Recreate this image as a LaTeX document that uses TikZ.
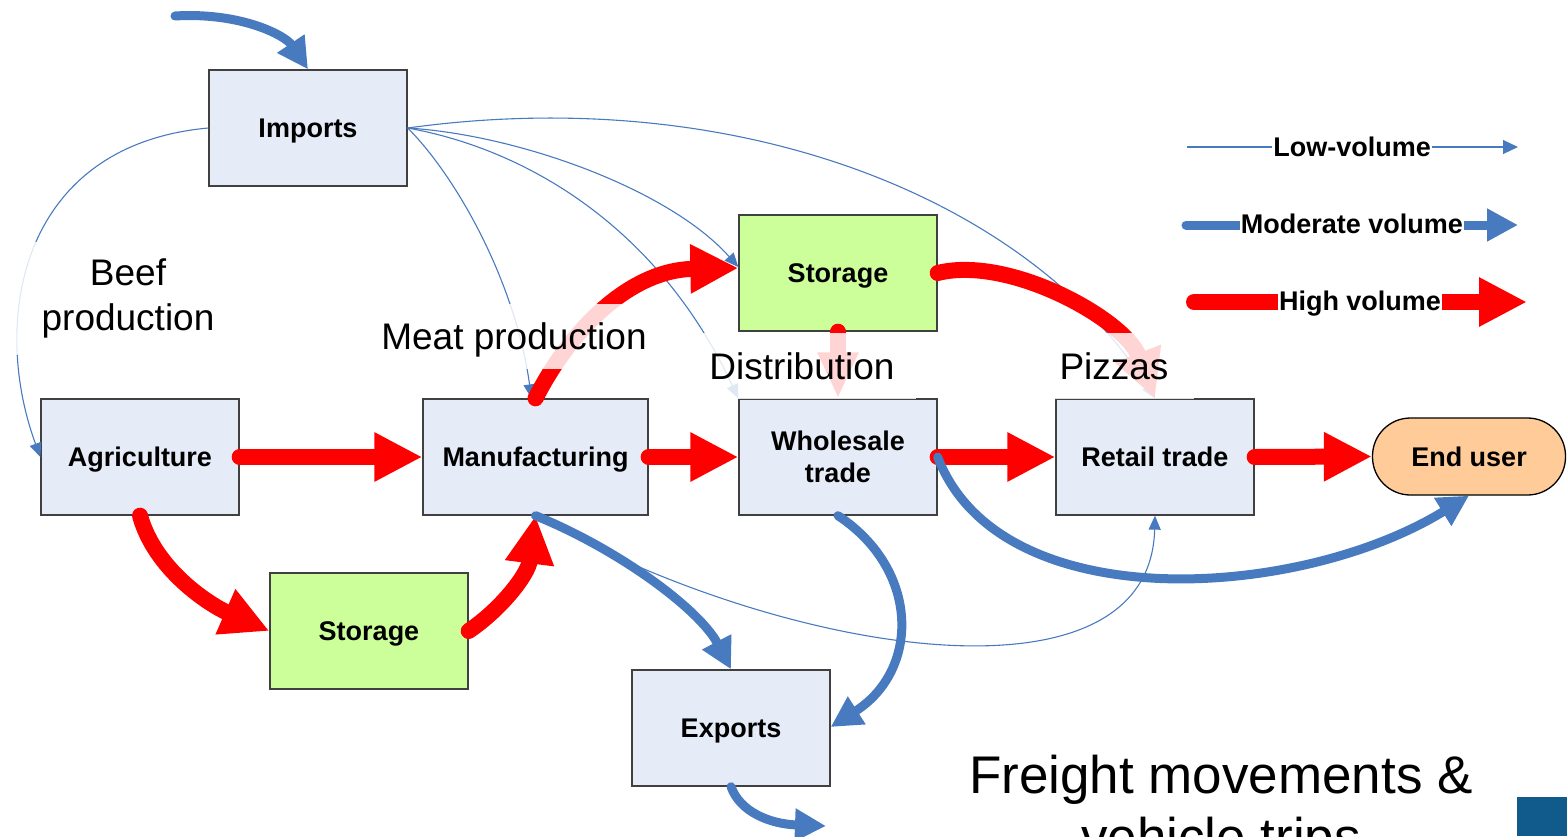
\documentclass[tikz,border=0pt]{standalone}
\usepackage{fontspec}
\setmainfont{Liberation Sans}
\usetikzlibrary{arrows.meta}
\definecolor{boxfill}{RGB}{230,236,247}
\definecolor{storefill}{RGB}{204,255,153}
\definecolor{userfill}{RGB}{255,204,153}
\definecolor{flowblue}{RGB}{72,122,192}
\definecolor{boxline}{RGB}{64,64,64}
\definecolor{cornerblue}{RGB}{16,90,140}

\begin{document}
\begin{tikzpicture}[x=1pt,y=-1pt,
  boxbase/.style={draw=boxline, line width=1.3pt, fill=boxfill, minimum width=198pt,
    minimum height=116pt, inner sep=0pt, align=center,
    font=\bfseries\fontsize{27}{32}\selectfont},
  box/.style={boxbase, text height=19pt, text depth=0pt},
  store/.style={box, fill=storefill},
  user/.style={box, fill=userfill, draw=black, minimum width=193pt,
    minimum height=77pt, rounded corners=38pt},
  lblbase/.style={fill=white, fill opacity=0.83, text opacity=1, inner sep=0pt,
    align=center, font=\fontsize{37}{45}\selectfont},
  lbl/.style={lblbase, text height=27pt, text depth=0pt},
  low/.style={draw=flowblue, line width=1.1pt, -{Triangle[length=14pt,width=12pt]}},
  mod/.style={draw=flowblue, line width=9pt, line cap=round,
    -{Triangle[length=31pt,width=31pt]}},
  high/.style={draw=red, line width=16pt, line cap=round,
    -{Triangle[length=48pt,width=46pt]}},
  legtext/.style={fill=white, inner sep=1pt, text height=19pt, text depth=0pt,
    font=\bfseries\fontsize{27}{32}\selectfont},
]
\path[use as bounding box] (0,0) rectangle (1567,836);
\clip (0,0) rectangle (1567,836);

% boxes
\node[box] (imp) at (308,128) {Imports};
\node[box] (agr) at (140,457) {Agriculture};
\node[box, minimum width=225pt] (man) at (535.5,457) {Manufacturing};
\node[store] (st1) at (838,273) {Storage};
\node[boxbase] (whl) at (838,457) {Wholesale\\trade};
\node[box] (ret) at (1155,457) {Retail trade};
\node[user] (usr) at (1469,456.5) {End user};
\node[store] (st2) at (369,631) {Storage};
\node[box] (exp) at (731,728) {Exports};

% low-volume flows
\draw[low] (imp.west) .. controls (20,145) and (-10,320) .. (agr.west);
\draw[low] (imp.east) .. controls (455,175) and (515,280) .. ([xshift=-4pt]man.north);
\draw[low] (imp.east) .. controls (520,135) and (670,190) .. ([yshift=6pt]st1.west);
\draw[low] (imp.east) .. controls (530,150) and (660,230) .. (whl.north west);
\draw[low] (imp.east) .. controls (740,82) and (1030,200) .. (ret.north);
\draw[low] (man.south) .. controls (780,655) and (1150,715) .. (ret.south);

% high-volume flows
\draw[high] (agr.east) -- (man.west);
\draw[high] (man.east) -- (whl.west);
\draw[high] (whl.east) -- (ret.west);
\draw[high] (ret.east) -- (usr.west);
\draw[high] (agr.south) .. controls (155,570) and (210,605) .. (st2.west);
\draw[high] (st2.east) .. controls (500,610) and (528,575) .. (man.south);
\draw[high] (man.north) .. controls (570,330) and (630,270) .. ([yshift=5pt]st1.west);
\draw[high] (st1.east) .. controls (1010,255) and (1125,320) .. (ret.north);
\draw[high, -{Triangle[length=46pt,width=38pt]}] (st1.south) -- (whl.north);

% moderate-volume flows
\coordinate (inA) at (175,16);
\coordinate (outE) at (826,826);
\draw[mod] (inA) .. controls (240,12) and (285,35) .. (imp.north);
\draw[mod] (man.south) .. controls (620,550) and (700,610) .. (exp.north);
\draw[mod] (whl.south) .. controls (920,570) and (920,670) .. ([yshift=1pt]exp.east);
\draw[mod] (whl.east) .. controls (1000,620) and (1300,600) .. (usr.south);
\draw[mod] (exp.south) .. controls (740,812) and (770,824) .. (outE);

% stage labels
\node[lblbase, minimum width=240pt, minimum height=113pt] (beef) at (128,298) {Beef\\production};
\node[lbl, minimum width=280pt, minimum height=65pt] (meat) at (514,336) {Meat production};
\node[lbl, minimum width=228pt, minimum height=66pt] (dist) at (802,366) {Distribution};
\node[lbl, minimum width=160pt, minimum height=66pt] (pizza) at (1114,366) {Pizzas};

% legend
\coordinate (lowA) at (1187,147);  \coordinate (lowB) at (1518,147);
\coordinate (modA) at (1186,225);  \coordinate (modB) at (1518,225);
\coordinate (highA) at (1194,302); \coordinate (highB) at (1527,302);
\draw[low, -{Triangle[length=15pt,width=14pt]}] (lowA) -- (lowB);
\draw[mod] (modA) -- (modB);
\draw[high] (highA) -- (highB);
\node[legtext] (lowT) at (1352,147) {Low-volume};
\node[legtext] (modT) at (1352,224) {Moderate volume};
\node[legtext] (highT) at (1360,301) {High volume};

% title
\node[anchor=base, font=\fontsize{53}{62}\selectfont] (t1) at (1221,793) {Freight movements \&};
\node[anchor=base, font=\fontsize{53}{62}\selectfont] (t2) at (1221,855) {vehicle trips};

% corner tab
\fill[cornerblue] (1517,797) rectangle (1567,836);
\end{tikzpicture}
\end{document}
